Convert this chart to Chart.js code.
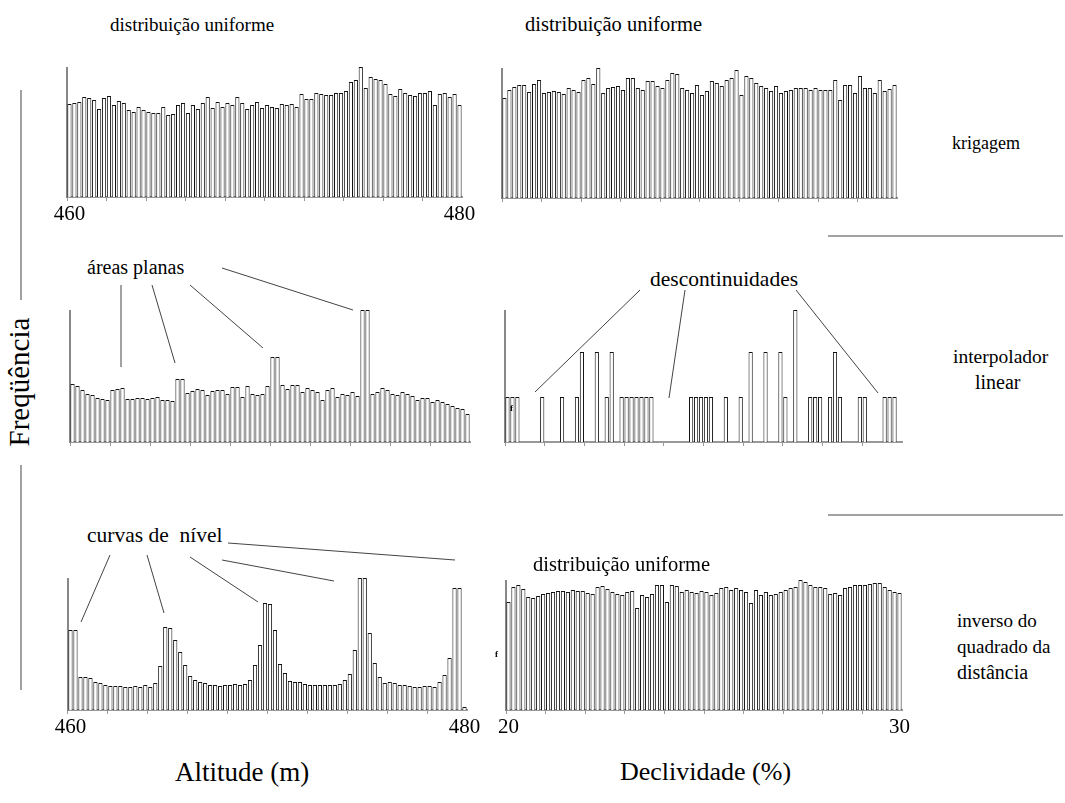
<!DOCTYPE html>
<html>
<head>
<meta charset="utf-8">
<script src="https://cdn.jsdelivr.net/npm/chart.js@4"></script>
<style>
  body { margin: 0; background: #fff; }
  #page { position: relative; width: 1065px; height: 803px; font-family: "Liberation Serif", "Times New Roman", serif; color: #000; }
  #page canvas { position: absolute; }
  .lbl { position: absolute; font-size: 18px; line-height: 1; white-space: pre; }
  .axt { position: absolute; font-size: 27px; line-height: 1; white-space: pre; }
  svg { position: absolute; left: 0; top: 0; }
</style>
</head>
<body>
<div id="page">
  <svg width="1065" height="803">
    <g stroke="#444" stroke-width="1" fill="none">
      <line x1="21" y1="90" x2="21" y2="300"/>
      <line x1="21" y1="465" x2="21" y2="690"/>
      <line x1="828" y1="236" x2="1063" y2="236"/>
      <line x1="828" y1="515" x2="1063" y2="515"/>
      <line x1="121" y1="285" x2="121" y2="367"/>
      <line x1="152" y1="285" x2="175" y2="363"/>
      <line x1="190" y1="285" x2="263" y2="348"/>
      <line x1="222" y1="268" x2="353" y2="310"/>
      <line x1="640" y1="290" x2="535" y2="392"/>
      <line x1="685" y1="290" x2="669" y2="398"/>
      <line x1="796" y1="290" x2="878" y2="393"/>
      <line x1="110" y1="555" x2="81" y2="622"/>
      <line x1="147" y1="555" x2="164" y2="613"/>
      <line x1="190" y1="557" x2="258" y2="602"/>
      <line x1="222" y1="560" x2="334" y2="581"/>
      <line x1="228" y1="543" x2="455" y2="560"/>
    </g>
  </svg>
  <canvas id="c1"></canvas>
  <canvas id="c2"></canvas>
  <canvas id="c3"></canvas>
  <canvas id="c4"></canvas>
  <canvas id="c5"></canvas>
  <canvas id="c6"></canvas>

  <div class="lbl" style="left:110px;top:15px;font-size:19px">distribuição uniforme</div>
  <div class="lbl" style="left:525px;top:14px;font-size:20.5px">distribuição uniforme</div>
  <div class="lbl" style="left:533px;top:554px;font-size:20.5px">distribuição uniforme</div>
  <div class="lbl" style="left:952px;top:134px;font-size:18px">krigagem</div>
  <div class="lbl" style="left:87px;top:257px;font-size:20px">áreas planas</div>
  <div class="lbl" style="left:650px;top:269px;font-size:21.5px">descontinuidades</div>
  <div class="lbl" style="left:953px;top:347px;font-size:19.5px">interpolador</div>
  <div class="lbl" style="left:975px;top:372px;font-size:20px">linear</div>
  <div class="lbl" style="left:87px;top:525px;font-size:21.5px">curvas de  nível</div>
  <div class="lbl" style="left:957px;top:611px;font-size:19px">inverso do</div>
  <div class="lbl" style="left:957px;top:637px;font-size:19px">quadrado da</div>
  <div class="lbl" style="left:957px;top:662px;font-size:20px">distância</div>
  <div class="lbl" style="left:510px;top:404px;font-size:9px;font-weight:bold">f</div>
  <div class="lbl" style="left:495px;top:650px;font-size:9px;font-weight:bold">f</div>
  <div class="axt" style="left:175px;top:759px">Altitude (m)</div>
  <div class="axt" style="left:620px;top:759px;font-size:26px">Declividade (%)</div>
  <div class="axt" style="left:-60px;top:367px;transform:rotate(-90deg);transform-origin:80px 15px;width:160px;text-align:center;font-size:29px">Freqüência</div>
</div>

<script>
// bins: 80 classes per histogram
const altBins = [];
for (let i = 0; i < 80; i++) altBins.push((460 + i * 0.25).toFixed(2));
const declBins = [];
for (let i = 0; i < 80; i++) declBins.push((20 + i * 0.125).toFixed(3));

const altTicks = ['460', '480'];
const declTicks = ['20', '30'];

// altitude, krigagem
const altKrig = [93,94,95,100,99,97,88,99,101,92, 96,94,87,85,90,87,85,84,84,90,
  82,83,92,94,84,92,88,94,100,89, 95,90,94,92,100,94,88,92,95,89,
  92,90,89,93,92,93,90,103,98,98, 104,103,102,102,104,104,106,115,117,130,
  109,120,118,117,113,103,101,108,104,102, 101,104,104,106,92,103,104,100,103,92];

// declividade, krigagem
const declKrig = [100,108,111,113,113,106,114,118,105,106, 107,106,104,110,108,106,118,120,114,130,
  105,110,111,112,108,120,120,110,108,117, 117,112,110,118,125,124,110,108,105,113,
  103,107,117,115,112,118,120,128,103,122, 120,115,112,110,107,112,105,107,108,110,
  110,110,108,110,108,108,108,118,98,113, 113,105,122,110,110,105,118,107,109,113];

// altitude, interpolador linear
const altLin = [58,56,52,48,47,44,43,42,52,53, 54,43,43,44,44,43,44,45,42,42,
  41,63,63,49,51,53,52,47,51,52, 52,48,55,55,45,56,48,47,48,56,
  85,85,57,53,57,57,50,54,52,50, 42,52,54,45,48,47,50,46,132,132,
  48,50,54,52,48,47,50,48,46,42, 44,44,40,42,40,38,36,34,33,28];

// declividade, interpolador linear (empty classes = null)
const declLin = [45,45,45,null,null,null,null,45,null,null, null,45,null,null,45,90,null,null,90,null,
  45,90,null,45,45,45,45,45,45,45, null,null,null,null,null,null,null,45,45,45,
  45,45,null,null,45,null,null,45,null,90, null,null,90,null,null,90,45,null,132,null,
  null,45,45,45,null,45,90,45,null,null, null,45,45,null,null,null,45,45,45,null];

// altitude, inverso do quadrado da distância
const altIqd = [80,80,33,33,32,28,27,25,24,24, 24,23,23,24,23,25,23,27,44,83,
  82,70,58,45,34,30,28,27,25,25, 24,25,25,26,25,26,30,45,65,107,
  106,80,46,37,29,28,28,26,25,25, 25,25,25,25,26,30,36,60,132,132,
  77,47,33,27,28,27,25,25,24,23, 23,24,24,23,28,35,52,122,122,3];

// declividade, inverso do quadrado da distância
const declIqd = [108,123,125,121,113,112,114,116,117,118, 119,119,118,120,119,119,117,116,123,124,
  121,118,116,115,118,119,102,115,113,116, 125,125,108,125,124,118,120,118,117,119,
  118,115,117,122,123,120,122,120,118,107, 120,115,118,115,116,118,120,122,123,130,
  128,125,123,123,122,116,117,115,122,123, 125,125,125,126,127,127,123,120,118,117];

const YW = 4;   // width reserved for the y axis line
const XH = 30;  // height reserved for the x axis
const PAD = 22; // room for the end tick labels

function panel(id, axisX, top, base, right, labels, values, ticks) {
  const cv = document.getElementById(id);
  cv.width = right - axisX + YW + 2 * PAD;
  cv.height = base - top + XH;
  cv.style.left = (axisX - YW - PAD) + 'px';
  cv.style.top = top + 'px';
  new Chart(cv.getContext('2d'), {
    type: 'bar',
    data: {
      labels: labels,
      datasets: [{
        data: values,
        backgroundColor: '#fff',
        borderColor: '#111',
        borderWidth: 1,
        barPercentage: 0.85,
        categoryPercentage: 1
      }]
    },
    options: {
      responsive: false,
      animation: false,
      layout: { padding: { left: PAD, right: PAD, top: 0, bottom: 0 } },
      plugins: { legend: { display: false }, tooltip: { enabled: false } },
      scales: {
        x: {
          afterFit: s => { s.height = XH; s.paddingLeft = 0; s.paddingRight = 0; },
          grid: {
            drawOnChartArea: false,
            tickLength: 4,
            color: c => (c.index % 8 === 0 ? '#999' : 'rgba(0,0,0,0)')
          },
          border: { color: '#999', width: 2 },
          ticks: {
            autoSkip: false,
            maxRotation: 0,
            padding: 1,
            color: '#000',
            font: { family: 'Liberation Serif', size: 21 },
            callback: (v, i) => {
              if (!ticks) return '';
              if (i === 0) return ticks[0];
              if (i === labels.length - 1) return ticks[1];
              return '';
            }
          }
        },
        y: {
          min: 0,
          max: base - top,
          afterFit: s => { s.width = YW; s.paddingTop = 0; s.paddingBottom = 0; },
          grid: { display: false },
          border: { display: true, color: '#888', width: 2 },
          ticks: { display: false }
        }
      }
    }
  });
}

panel('c1', 67, 67, 197, 462, altBins, altKrig, altTicks);
panel('c2', 502, 68, 198, 897, declBins, declKrig, null);
panel('c3', 70, 310, 442, 470, altBins, altLin, null);
panel('c4', 505, 310, 442, 902, declBins, declLin, null);
panel('c5', 68, 578, 710, 467, altBins, altIqd, altTicks);
panel('c6', 506, 580, 710, 902, declBins, declIqd, declTicks);
</script>
</body>
</html>
